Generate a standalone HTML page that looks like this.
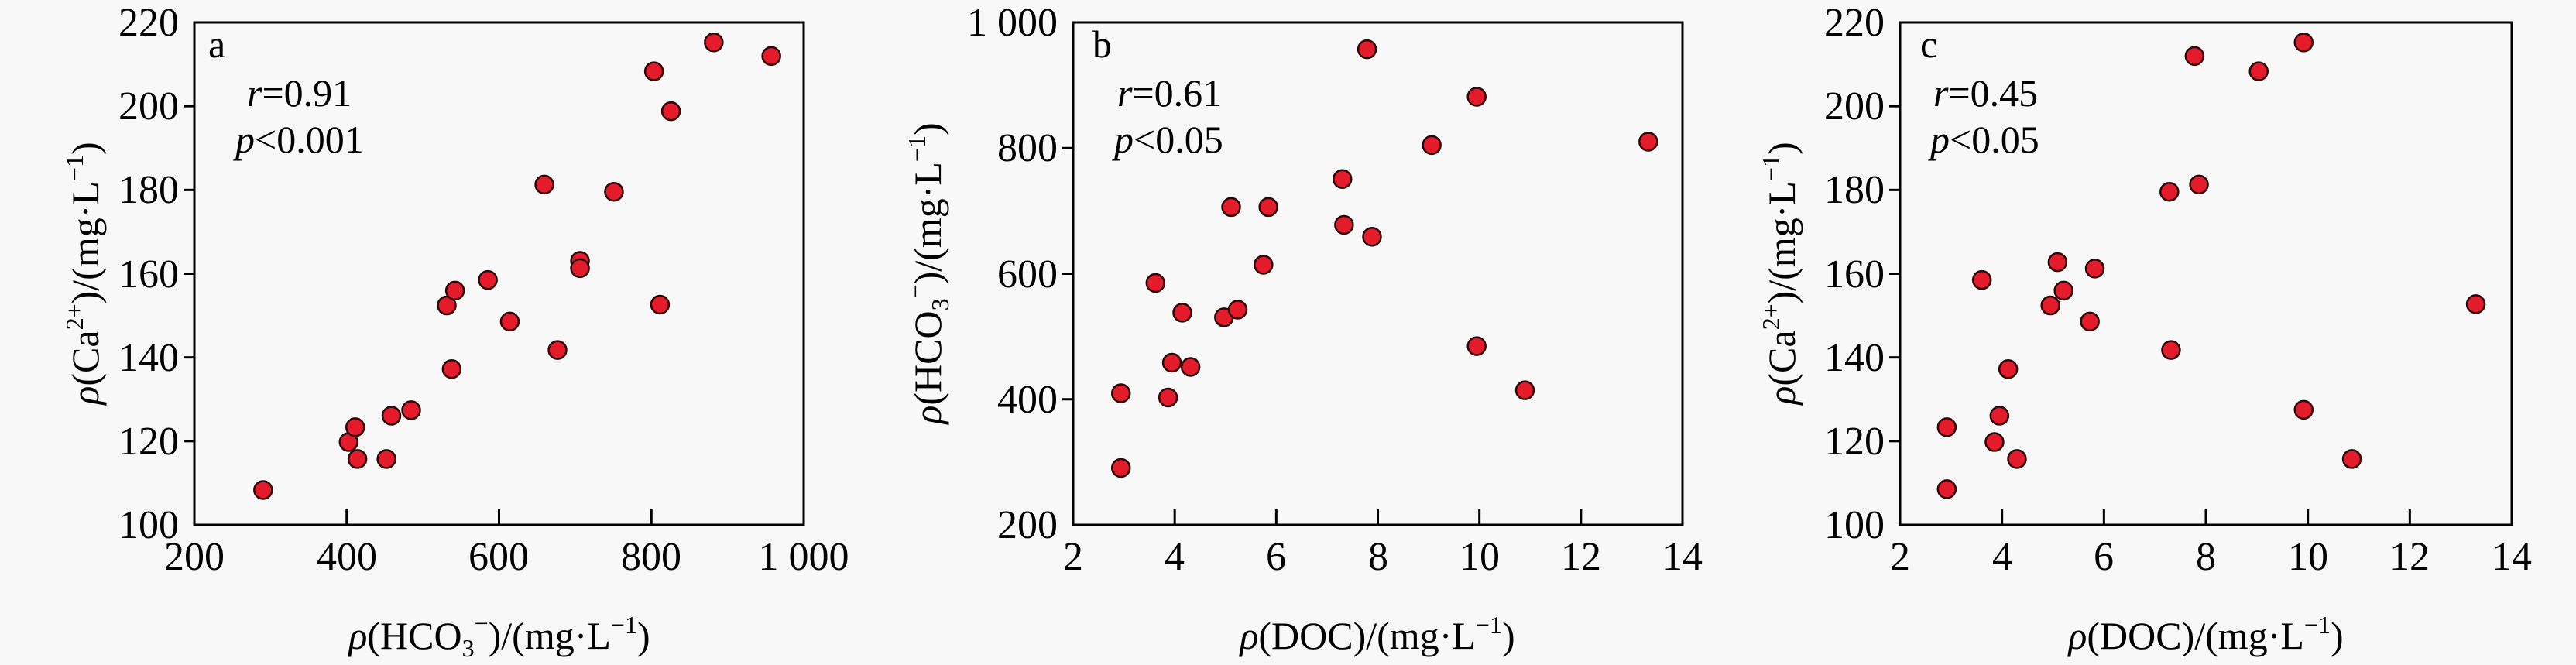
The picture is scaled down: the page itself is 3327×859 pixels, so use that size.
<!DOCTYPE html>
<html><head><meta charset="utf-8"><style>
html,body{margin:0;padding:0;background:#f8f8f8}
svg{display:block}
svg text{font-family:"Liberation Serif","Times New Roman",serif;fill:#000}
</style></head><body>
<svg id="s" width="3327" height="859" xmlns="http://www.w3.org/2000/svg" font-family="Liberation Serif, Times New Roman, serif">
<rect width="3327" height="859" fill="#f8f8f8"/>
<g font-size="52" text-anchor="middle">
<text x="251" y="736">200</text><text x="448" y="736">400</text><text x="644" y="736">600</text><text x="841" y="736">800</text><text x="1038" y="736">1 000</text>
<text x="1386" y="736">2</text><text x="1517" y="736">4</text><text x="1648" y="736">6</text><text x="1780" y="736">8</text><text x="1911" y="736">10</text><text x="2042" y="736">12</text><text x="2173" y="736">14</text>
<text x="2454" y="736">2</text><text x="2586" y="736">4</text><text x="2717" y="736">6</text><text x="2849" y="736">8</text><text x="2981" y="736">10</text><text x="3112" y="736">12</text><text x="3244" y="736">14</text>
</g>
<g font-size="52" text-anchor="end">
<text x="231" y="695">100</text><text x="231" y="587">120</text><text x="231" y="479">140</text><text x="231" y="371">160</text><text x="231" y="262">180</text><text x="231" y="154">200</text><text x="231" y="46">220</text>
<text x="1366" y="695">200</text><text x="1366" y="533">400</text><text x="1366" y="371">600</text><text x="1366" y="208">800</text><text x="1366" y="46">1 000</text>
<text x="2434" y="695">100</text><text x="2434" y="587">120</text><text x="2434" y="479">140</text><text x="2434" y="371">160</text><text x="2434" y="262">180</text><text x="2434" y="154">200</text><text x="2434" y="46">220</text>
</g>
<g font-size="50">
<text x="269" y="74">a</text>
<text x="319" y="137"><tspan font-style="italic">r</tspan>=0.91</text>
<text x="304" y="197"><tspan font-style="italic">p</tspan>&lt;0.001</text>
<text x="645" y="838" text-anchor="middle"><tspan font-style="italic">ρ</tspan>(HCO<tspan font-size="32" dy="10">3</tspan><tspan font-size="32" dy="-32">−</tspan><tspan dy="22">)/(mg·L</tspan><tspan font-size="32" dy="-20">−1</tspan><tspan dy="20">)</tspan></text>
<text transform="translate(127,353) rotate(-90)" text-anchor="middle"><tspan font-style="italic">ρ</tspan>(Ca<tspan font-size="32" dy="-20">2+</tspan><tspan dy="20">)/(mg·L</tspan><tspan font-size="32" dy="-20">−1</tspan><tspan dy="20">)</tspan></text>
</g>
<g font-size="50">
<text x="1411" y="74">b</text>
<text x="1443" y="137"><tspan font-style="italic">r</tspan>=0.61</text>
<text x="1439" y="197"><tspan font-style="italic">p</tspan>&lt;0.05</text>
<text x="1779" y="838" text-anchor="middle"><tspan font-style="italic">ρ</tspan>(DOC)/(mg·L<tspan font-size="32" dy="-20">−1</tspan><tspan dy="20">)</tspan></text>
<text transform="translate(1215,353) rotate(-90)" text-anchor="middle"><tspan font-style="italic">ρ</tspan>(HCO<tspan font-size="32" dy="10">3</tspan><tspan font-size="32" dy="-32">−</tspan><tspan dy="22">)/(mg·L</tspan><tspan font-size="32" dy="-20">−1</tspan><tspan dy="20">)</tspan></text>
</g>
<g font-size="50">
<text x="2480" y="74">c</text>
<text x="2497" y="137"><tspan font-style="italic">r</tspan>=0.45</text>
<text x="2493" y="197"><tspan font-style="italic">p</tspan>&lt;0.05</text>
<text x="2849" y="838" text-anchor="middle"><tspan font-style="italic">ρ</tspan>(DOC)/(mg·L<tspan font-size="32" dy="-20">−1</tspan><tspan dy="20">)</tspan></text>
<text transform="translate(2318,353) rotate(-90)" text-anchor="middle"><tspan font-style="italic">ρ</tspan>(Ca<tspan font-size="32" dy="-20">2+</tspan><tspan dy="20">)/(mg·L</tspan><tspan font-size="32" dy="-20">−1</tspan><tspan dy="20">)</tspan></text>
</g>
</svg>
<script>
var NS="http://www.w3.org/2000/svg",s=document.getElementById("s");
function el(n,a){var e=document.createElementNS(NS,n);for(var k in a)e.setAttribute(k,a[k]);s.appendChild(e);return e;}
var T=29,B=678;
var panels=[
 {L:251,R:1038,off:0,nx:4,ny:6,
  pts:[[480,1155],[636,1042],[648,1007],[652,1082],[705,1082],[714,980],[750,967],[815,720],[824,870],[830,685],[890,660],[930,758],[993,435],[1017,825],[1058,615],[1058,632],[1120,452],[1193,168],[1204,718],[1224,262],[1302,100],[1407,132]]},
 {L:1386,R:2173,off:1110,nx:6,ny:4,
  pts:[[477,927],[477,1103],[540,667],[563,937],[570,855],[589,737],[604,865],[665,748],[678,488],[690,730],[737,624],[746,488],[881,422],[884,530],[926,116],[935,558],[1044,342],[1126,228],[1126,816],[1214,920],[1439,334]]},
 {L:2454,R:3244,off:2217,nx:6,ny:6,
  pts:[[420,1007],[420,1153],[484,660],[507,1042],[516,980],[532,870],[548,1082],[609,720],[622,618],[633,685],[681,758],[690,633],[826,452],[829,825],[872,132],[880,435],[989,168],[1071,100],[1071,966],[1159,1082],[1385,717]]}
];
panels.forEach(function(p){
 el("rect",{x:p.L,y:T,width:p.R-p.L,height:B-T,fill:"none",stroke:"#000","stroke-width":3});
 for(var i=1;i<p.nx;i++){var x=p.L+(p.R-p.L)*i/p.nx;el("line",{x1:x,x2:x,y1:B,y2:B-20,stroke:"#000","stroke-width":3});}
 for(var j=1;j<p.ny;j++){var y=B-(B-T)*j/p.ny;el("line",{x1:p.L,x2:p.L-14,y1:y,y2:y,stroke:"#000","stroke-width":3});}
 p.pts.forEach(function(q){
  el("circle",{cx:p.off+q[0]*0.708,cy:q[1]*0.548,r:11.5,fill:"#e41b2a",stroke:"#2a0808","stroke-width":2.5});});
});
</script>
</body></html>
